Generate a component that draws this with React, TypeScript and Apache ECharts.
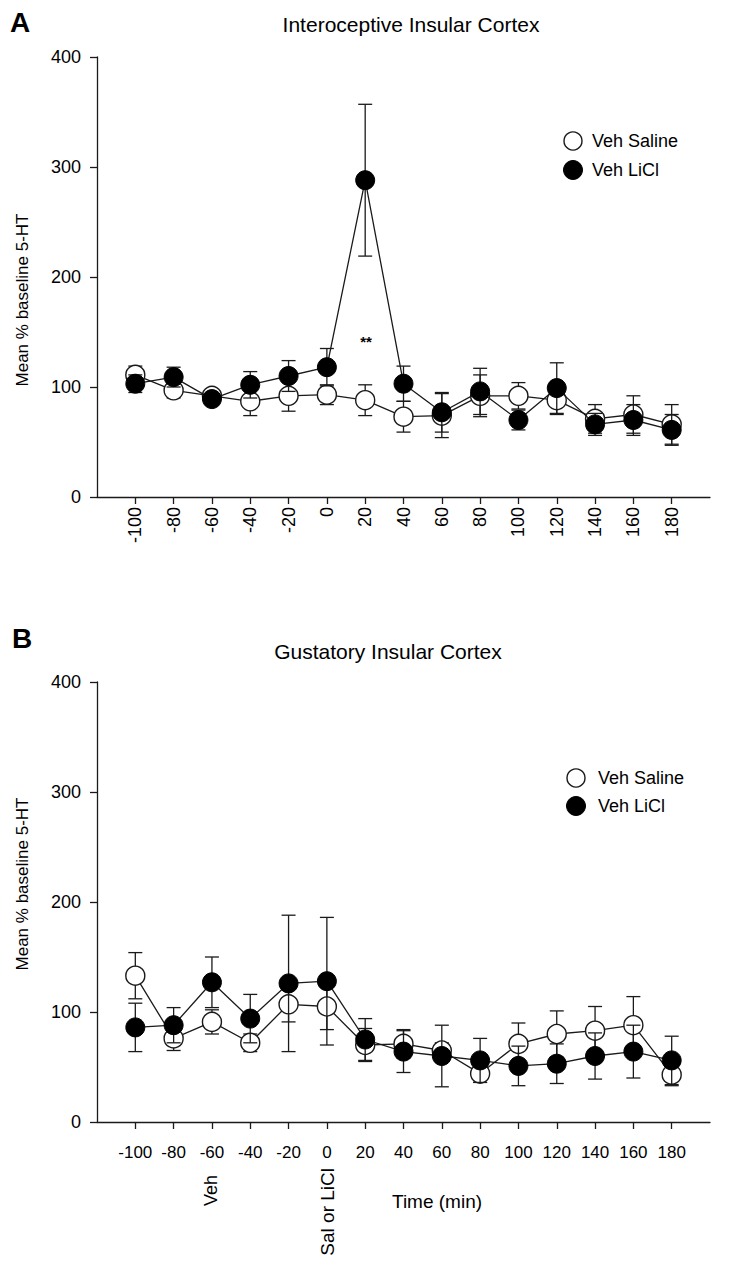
import React, { useEffect, useRef } from 'react';
import * as echarts from 'echarts';

const times = [-100, -80, -60, -40, -20, 0, 20, 40, 60, 80, 100, 120, 140, 160, 180];
const yTicks = [0, 100, 200, 300, 400];

// Panel A: Interoceptive Insular Cortex
const salineA = [111, 97, 92, 87, 92, 93, 88, 73, 74, 92, 92, 88, 71, 75, 66];
const salineAErr = [8, 7, 5, 13, 14, 9, 14, 14, 20, 19, 12, 13, 13, 17, 18];
const liclA = [103, 109, 89, 102, 110, 118, 288, 103, 77, 96, 70, 99, 66, 70, 61];
const liclAErr = [8, 9, 5, 12, 14, 17, 69, 16, 18, 21, 9, 23, 10, 14, 14];

// Panel B: Gustatory Insular Cortex
const salineB = [133, 76, 91, 72, 107, 105, 70, 71, 65, 44, 71, 80, 83, 88, 43];
const salineBErr = [21, 11, 11, 8, 16, 21, 15, 13, 7, 8, 19, 21, 22, 26, 10];
const liclB = [86, 88, 127, 94, 126, 128, 75, 64, 60, 56, 51, 53, 60, 64, 56];
const liclBErr = [22, 16, 23, 22, 62, 58, 19, 19, 28, 20, 18, 18, 21, 24, 22];

const seriesNames = ['Veh Saline', 'Veh LiCl'];

const FONT = "'Liberation Sans', Arial, Helvetica, sans-serif";
const INK = '#1a1a1a';

const errRender = (params: any, api: any) => {
  const x = api.value(0);
  const lo = api.value(1);
  const hi = api.value(2);
  const top = api.coord([x, hi]);
  const bot = api.coord([x, lo]);
  const cw = 7;
  const style = { stroke: INK, lineWidth: 1.3, fill: 'none' };
  return {
    type: 'group',
    children: [
      { type: 'line', shape: { x1: top[0], y1: top[1], x2: bot[0], y2: bot[1] }, style },
      { type: 'line', shape: { x1: top[0] - cw, y1: top[1], x2: top[0] + cw, y2: top[1] }, style },
      { type: 'line', shape: { x1: bot[0] - cw, y1: bot[1], x2: bot[0] + cw, y2: bot[1] }, style },
    ],
  };
};

const errData = (vals: number[], errs: number[]) => times.map((t, i) => [t, vals[i] - errs[i], vals[i] + errs[i]]);
const lineData = (vals: number[]) => times.map((t, i) => [t, vals[i]]);

const makeSeries = (idx: number, sal: number[], salErr: number[], li: number[], liErr: number[]) => [
  {
    type: 'custom', xAxisIndex: idx, yAxisIndex: idx, renderItem: errRender,
    data: errData(sal, salErr), encode: { x: 0, y: [1, 2] }, silent: true, z: 2,
  },
  {
    type: 'line', name: seriesNames[0], xAxisIndex: idx, yAxisIndex: idx, data: lineData(sal),
    symbol: 'circle', symbolSize: 19, z: 3,
    lineStyle: { color: INK, width: 1.3 },
    itemStyle: { color: '#ffffff', borderColor: INK, borderWidth: 1.4 },
  },
  {
    type: 'custom', xAxisIndex: idx, yAxisIndex: idx, renderItem: errRender,
    data: errData(li, liErr), encode: { x: 0, y: [1, 2] }, silent: true, z: 4,
  },
  {
    type: 'line', name: seriesNames[1], xAxisIndex: idx, yAxisIndex: idx, data: lineData(li),
    symbol: 'circle', symbolSize: 19, z: 5,
    lineStyle: { color: INK, width: 1.3 },
    itemStyle: { color: '#000000', borderColor: '#000000', borderWidth: 1 },
  },
];

const makeX = (idx: number, rotated: boolean) => ({
  type: 'value', gridIndex: idx, min: -120, max: 200, interval: 20,
  splitLine: { show: false },
  axisLine: { onZero: false, lineStyle: { color: INK, width: 1.3 } },
  axisTick: { customValues: times, length: 7, lineStyle: { color: INK, width: 1.3 } },
  axisLabel: {
    customValues: times, rotate: rotated ? 90 : 0, margin: rotated ? 10 : 22,
    fontSize: rotated ? 18 : 17, color: '#000', fontFamily: FONT,
  },
});

const makeY = (idx: number) => ({
  type: 'value', gridIndex: idx, min: 0, max: 400, interval: 100,
  splitLine: { show: false },
  axisLine: { show: true, onZero: false, lineStyle: { color: INK, width: 1.3 } },
  axisTick: { show: true, length: 7, lineStyle: { color: INK, width: 1.3 } },
  axisLabel: { customValues: yTicks, margin: 16, fontSize: 18, color: '#000', fontFamily: FONT },
});

const txt = (text: string, x: number, y: number, extra: any = {}, rot = 0) => ({
  type: 'text', x, y, rotation: rot, silent: true,
  style: { text, fill: '#000', font: `17px ${FONT}`, align: 'left', verticalAlign: 'middle', ...extra },
});

const legendItems = (cx: number, cy1: number, cy2: number, tx: number) => [
  { type: 'circle', shape: { cx, cy: cy1, r: 9 }, style: { fill: '#fff', stroke: INK, lineWidth: 1.4 }, silent: true },
  { type: 'circle', shape: { cx, cy: cy2, r: 9.5 }, style: { fill: '#000', stroke: '#000', lineWidth: 1 }, silent: true },
  txt(seriesNames[0], tx, cy1, { font: `18px ${FONT}` }),
  txt(seriesNames[1], tx, cy2, { font: `18px ${FONT}` }),
];

export default function App() {
  const ref = useRef<HTMLDivElement>(null);
  useEffect(() => {
    if (!ref.current) return;
    const chart = echarts.init(ref.current, null, { renderer: 'svg' });
    chart.setOption({
      animation: false,
      backgroundColor: '#ffffff',
      grid: [
        { left: 97, top: 57, width: 613, height: 440 },
        { left: 97, top: 682, width: 613, height: 440 },
      ],
      xAxis: [makeX(0, true), makeX(1, false)],
      yAxis: [makeY(0), makeY(1)],
      series: [
        ...makeSeries(0, salineA, salineAErr, liclA, liclAErr),
        ...makeSeries(1, salineB, salineBErr, liclB, liclBErr),
      ],
      graphic: [
        txt('A', 10, 22, { font: `bold 28px ${FONT}` }),
        txt('B', 12, 638, { font: `bold 28px ${FONT}` }),
        txt('Interoceptive Insular Cortex', 411, 24, { font: `21px ${FONT}`, align: 'center' }),
        txt('Gustatory Insular Cortex', 388, 651, { font: `21px ${FONT}`, align: 'center' }),
        txt('Mean % baseline 5-HT', 22, 300, { align: 'center' }, Math.PI / 2),
        txt('Mean % baseline 5-HT', 22, 884, { align: 'center' }, Math.PI / 2),
        txt('**', 366, 341, { font: `bold 15px ${FONT}`, align: 'center' }),
        txt('Veh', 211, 1175, { font: `18px ${FONT}`, align: 'right' }, Math.PI / 2),
        txt('Sal or LiCl', 327, 1168, { font: `19px ${FONT}`, align: 'right' }, Math.PI / 2),
        txt('Time (min)', 392, 1201, { font: `19px ${FONT}` }),
        ...legendItems(573, 141, 170, 592),
        ...legendItems(576, 778, 806, 598),
      ],
    });
    return () => chart.dispose();
  }, []);
  return <div ref={ref} style={{ position: 'absolute', left: 0, top: 0, width: 749, height: 1263 }} />;
}
